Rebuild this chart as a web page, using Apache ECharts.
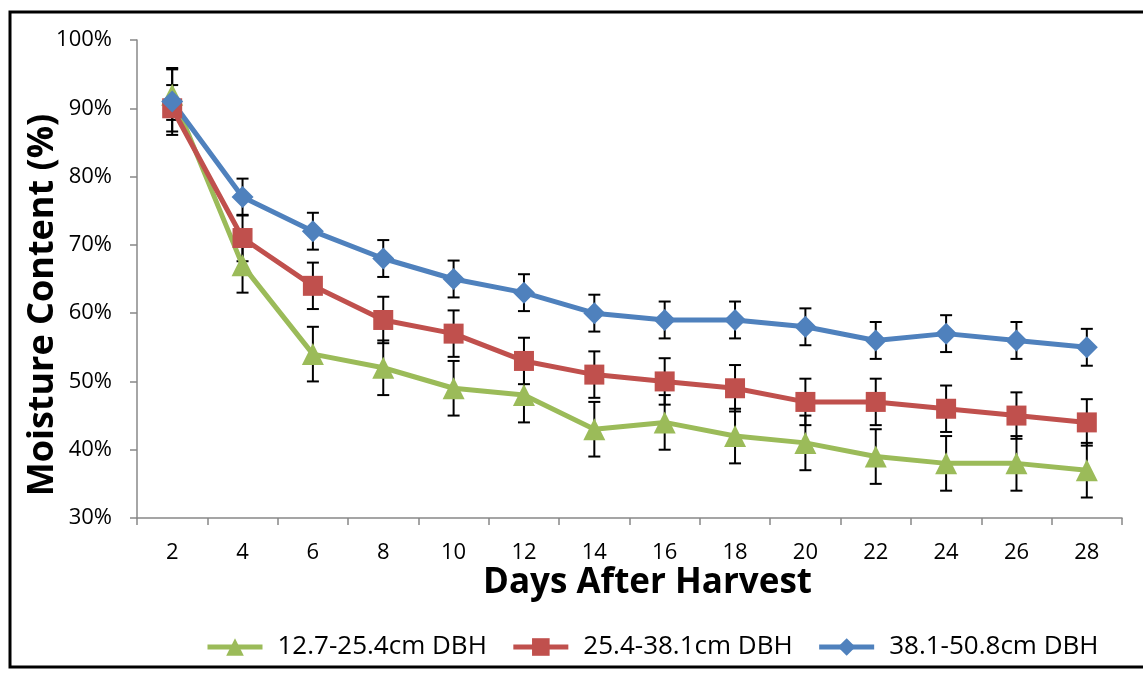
<!DOCTYPE html>
<html>
<head>
<meta charset="utf-8">
<script src="https://cdn.jsdelivr.net/npm/echarts@6/dist/echarts.min.js"></script>
<style>
  html, body { margin: 0; padding: 0; background: #fff; }
  #chart { width: 1143px; height: 677px; }
</style>
</head>
<body>
<div id="chart"></div>
<script>
const days = ['2', '4', '6', '8', '10', '12', '14', '16', '18', '20', '22', '24', '26', '28']

const smallDbh = [92, 67, 54, 52, 49, 48, 43, 44, 42, 41, 39, 38, 38, 37]
const midDbh = [90, 71, 64, 59, 57, 53, 51, 50, 49, 47, 47, 46, 45, 44]
const largeDbh = [91, 77, 72, 68, 65, 63, 60, 59, 59, 58, 56, 57, 56, 55]

// half-width of error bars
const smallErr = [3.7, 4, 4, 4, 4, 4, 4, 4, 4, 4, 4, 4, 4, 4]
const midErr = [3.4, 3.4, 3.4, 3.4, 3.4, 3.4, 3.4, 3.4, 3.4, 3.4, 3.4, 3.4, 3.4, 3.4]
const largeErr = [4.9, 2.7, 2.7, 2.7, 2.7, 2.7, 2.7, 2.7, 2.7, 2.7, 2.7, 2.7, 2.7, 2.7]

const names = ['12.7-25.4cm DBH', '25.4-38.1cm DBH', '38.1-50.8cm DBH']
const colors = ['#9BBB59', '#C0504D', '#4F81BD']

const font = '"Open Sans", "Noto Sans", sans-serif'

function errorData(values, errs) {
  return values.map((v, i) => [i, v - errs[i], v + errs[i]])
}

function renderError(params, api) {
  const x = api.value(0)
  const lo = api.coord([x, api.value(1)])
  const hi = api.coord([x, api.value(2)])
  const cap = 6
  const style = { stroke: '#000', lineWidth: 2 }
  return {
    type: 'group',
    children: [
      { type: 'line', shape: { x1: hi[0], y1: hi[1], x2: lo[0], y2: lo[1] }, style },
      { type: 'line', shape: { x1: hi[0] - cap, y1: hi[1], x2: hi[0] + cap, y2: hi[1] }, style },
      { type: 'line', shape: { x1: lo[0] - cap, y1: lo[1], x2: lo[0] + cap, y2: lo[1] }, style }
    ]
  }
}

function errorSeries(values, errs) {
  return {
    type: 'custom',
    renderItem: renderError,
    data: errorData(values, errs),
    encode: { x: 0, y: [1, 2] },
    z: 1,
    silent: true
  }
}

function lineSeries(name, values, color, symbol, size) {
  return {
    name,
    type: 'line',
    data: values,
    symbol,
    symbolSize: size,
    lineStyle: { color, width: 5 },
    itemStyle: { color },
    z: 3
  }
}

const chart = echarts.init(document.getElementById('chart'))
chart.setOption({
  animation: false,
  textStyle: { fontFamily: font },
  graphic: [{
    type: 'rect',
    shape: { x: 10, y: 12, width: 1145, height: 655 },
    style: { fill: 'none', stroke: '#000', lineWidth: 3 },
    silent: true
  }],
  grid: { left: 137, right: 21, top: 40, bottom: 159 },
  legend: {
    data: names,
    left: 200,
    top: 629,
    itemWidth: 55,
    itemHeight: 22,
    itemGap: 24,
    lineStyle: { width: 5 },
    textStyle: { fontSize: 26, color: '#000', fontFamily: font, padding: [0, 0, 0, 10] }
  },
  xAxis: {
    type: 'category',
    data: days,
    boundaryGap: true,
    name: 'Days After Harvest',
    nameLocation: 'middle',
    nameGap: 48,
    nameMoveOverlap: false,
    nameTextStyle: { fontSize: 35, fontWeight: 'bold', color: '#000', fontFamily: font, padding: [0, 0, 0, 36] },
    axisLine: { lineStyle: { color: '#888', width: 1.5 } },
    axisTick: { show: true, alignWithLabel: false, length: 7, lineStyle: { color: '#888', width: 1.5 } },
    axisLabel: { fontSize: 22, color: '#000', margin: 24 }
  },
  yAxis: {
    type: 'value',
    min: 30,
    max: 100,
    interval: 10,
    name: 'Moisture Content (%)',
    nameLocation: 'middle',
    nameGap: 76,
    nameMoveOverlap: false,
    nameTextStyle: { fontSize: 36, fontWeight: 'bold', color: '#000', fontFamily: font, padding: [0, 52, 0, 0] },
    axisLine: { show: true, lineStyle: { color: '#888', width: 1.5 } },
    axisTick: { show: true, length: 7, lineStyle: { color: '#888', width: 1.5 } },
    splitLine: { show: false },
    axisLabel: { fontSize: 22, color: '#000', margin: 25, formatter: v => v + '%' }
  },
  series: [
    errorSeries(smallDbh, smallErr),
    errorSeries(midDbh, midErr),
    errorSeries(largeDbh, largeErr),
    lineSeries(names[0], smallDbh, colors[0], 'triangle', 22),
    lineSeries(names[1], midDbh, colors[1], 'rect', 20),
    lineSeries(names[2], largeDbh, colors[2], 'diamond', 22)
  ]
})
</script>
</body>
</html>
